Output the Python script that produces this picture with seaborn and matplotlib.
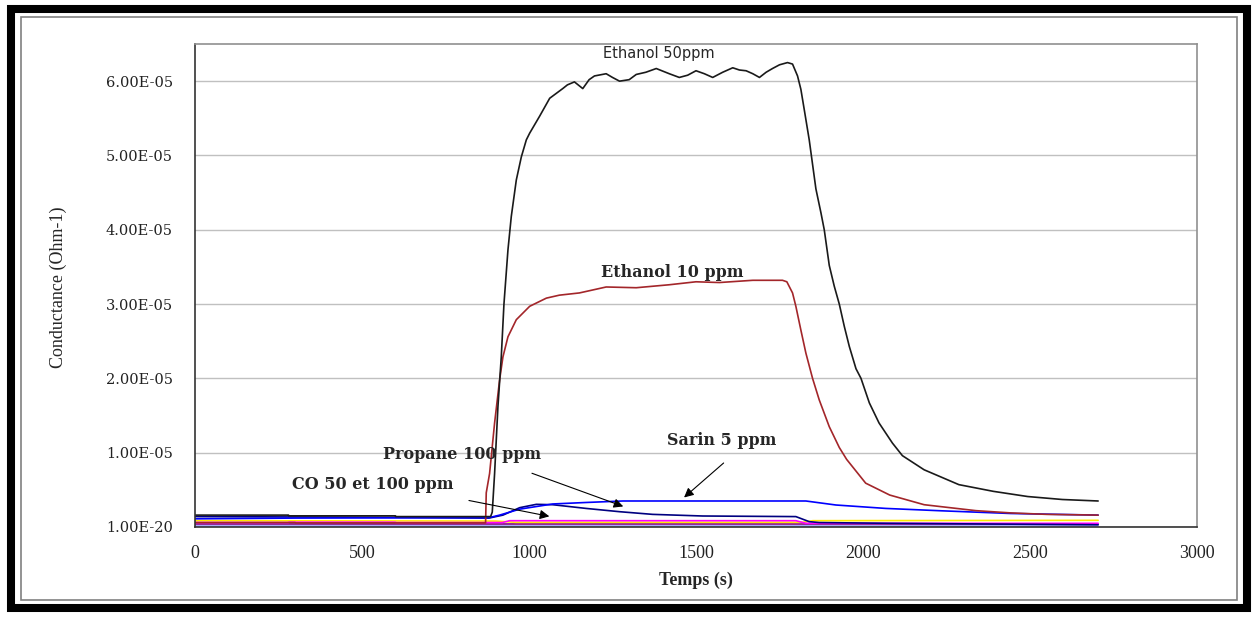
import seaborn as sns
import matplotlib.pyplot as plt
from matplotlib.patches import Rectangle

# temps (s) et conductance (unites de 1e-5 Ohm-1)
eth50_t = [0, 280, 281, 600, 601, 885, 890, 897, 907, 917, 925, 937, 947, 962, 977, 992,
           1002, 1032, 1062, 1101, 1115, 1136, 1161, 1180, 1196, 1231, 1250, 1271, 1300,
           1321, 1350, 1381, 1420, 1450, 1475, 1500, 1525, 1550, 1580, 1610, 1630, 1650,
           1670, 1690, 1710, 1729, 1750, 1774, 1789, 1804, 1814, 1824, 1839, 1859, 1874,
           1884, 1899, 1914, 1929, 1944, 1959, 1979, 1994, 2019, 2048, 2088, 2118, 2183,
           2287, 2390, 2493, 2597, 2704]
eth50_v = [0.16, 0.16, 0.15, 0.15, 0.14, 0.14, 0.20, 0.72, 1.62, 2.29, 3.00, 3.73, 4.18,
           4.67, 4.98, 5.21, 5.30, 5.53, 5.77, 5.90, 5.95, 5.99, 5.90, 6.02, 6.07, 6.10,
           6.05, 6.00, 6.02, 6.09, 6.12, 6.17, 6.10, 6.05, 6.08, 6.14, 6.10, 6.05, 6.12,
           6.18, 6.15, 6.14, 6.10, 6.05, 6.12, 6.17, 6.22, 6.25, 6.23, 6.07, 5.89, 5.62,
           5.21, 4.55, 4.23, 4.00, 3.52, 3.24, 3.00, 2.70, 2.43, 2.13, 2.00, 1.67, 1.40,
           1.13, 0.96, 0.77, 0.57, 0.48, 0.41, 0.37, 0.35]

eth10_t = [0, 300, 301, 870, 872, 882, 897, 912, 922, 937, 962, 1002, 1052, 1091, 1151,
           1231, 1321, 1420, 1500, 1570, 1670, 1759, 1772, 1789, 1799, 1814, 1829, 1849,
           1869, 1899, 1929, 1951, 2008, 2080, 2183, 2338, 2441, 2550, 2704]
eth10_v = [0.06, 0.06, 0.055, 0.055, 0.46, 0.72, 1.40, 1.98, 2.29, 2.56, 2.79, 2.97, 3.08,
           3.12, 3.15, 3.23, 3.22, 3.26, 3.30, 3.29, 3.32, 3.32, 3.30, 3.15, 2.97, 2.65,
           2.34, 2.00, 1.71, 1.35, 1.07, 0.91, 0.59, 0.43, 0.30, 0.22, 0.19, 0.17, 0.16]

sarin_t = [0, 300, 880, 912, 972, 1071, 1171, 1281, 1829, 1919, 2068, 2235, 2441, 2704]
sarin_v = [0.11, 0.12, 0.125, 0.16, 0.24, 0.31, 0.33, 0.35, 0.35, 0.296, 0.25, 0.218,
           0.182, 0.16]

propane_t = [0, 600, 880, 922, 972, 1022, 1071, 1171, 1271, 1370, 1520, 1799, 1839, 1869,
             2070, 2704]
propane_v = [0.14, 0.13, 0.12, 0.16, 0.26, 0.305, 0.30, 0.25, 0.206, 0.17, 0.148, 0.14,
             0.072, 0.06, 0.05, 0.03]

co100_t = [0, 280, 281, 600, 601, 920, 942, 1799, 1829, 2704]
co100_v = [0.06, 0.06, 0.065, 0.065, 0.06, 0.06, 0.085, 0.085, 0.05, 0.05]

co50_t = [0, 900, 960, 1819, 1850, 2704]
co50_v = [0.085, 0.08, 0.063, 0.063, 0.085, 0.09]

air1_t = [0, 2704]
air1_v = [0.036, 0.036]
air2_t = [0, 2704]
air2_v = [0.017, 0.017]

x_ticks = [0, 500, 1000, 1500, 2000, 2500, 3000]
y_ticks = [0, 1, 2, 3, 4, 5, 6]
y_tick_labels = ["1.00E-20", "1.00E-05", "2.00E-05", "3.00E-05", "4.00E-05",
                 "5.00E-05", "6.00E-05"]

sns.set_style("white")
plt.rcParams["font.family"] = ["Liberation Serif", "DejaVu Serif"]

fig = plt.figure(figsize=(12.58, 6.17), dpi=100)
ax = fig.add_axes([195 / 1258, 1 - 527 / 617, 1002 / 1258, 483 / 617])

series = [
    (air2_t, air2_v, "#9999FF"),
    (air1_t, air1_v, "#800080"),
    (co50_t, co50_v, "#FFE800"),
    (co100_t, co100_v, "#FF00FF"),
    (propane_t, propane_v, "#000080"),
    (sarin_t, sarin_v, "#0000FF"),
    (eth10_t, eth10_v, "#A3262A"),
    (eth50_t, eth50_v, "#1A1A1A"),
]
for t, v, c in series:
    sns.lineplot(x=t, y=v, color=c, lw=1.2, ax=ax, estimator=None, sort=False)

ax.set_xlim(0, 3000)
ax.set_ylim(0, 6.5)
ax.set_xticks(x_ticks)
ax.set_xticklabels([str(v) for v in x_ticks], fontsize=13)
ax.set_yticks(y_ticks)
ax.set_yticklabels(y_tick_labels, family="DejaVu Serif", fontsize=10.5)
ax.yaxis.grid(True, color="#C0C0C0", lw=1)
ax.xaxis.grid(False)
ax.tick_params(axis="both", direction="out", length=5, width=1, color="#333333",
               colors="#222222")
ax.tick_params(axis="x", pad=8)
ax.tick_params(axis="y", pad=11)
for s in ["left", "bottom"]:
    ax.spines[s].set_color("#333333")
    ax.spines[s].set_linewidth(1.2)
for s in ["top", "right"]:
    ax.spines[s].set_color("#909090")
    ax.spines[s].set_linewidth(1.2)

ax.set_xlabel("Temps (s)", fontsize=13, fontweight="bold")
ax.xaxis.set_label_coords(0.5, -0.093)
ax.set_ylabel("Conductance (Ohm-1)", fontsize=13)
ax.yaxis.set_label_coords(-0.128, 0.497)

# etiquettes
ax.text(1390, 6.37, "Ethanol 50ppm", family="DejaVu Sans", fontsize=10.5,
        ha="center", va="center")
ax.text(1430, 3.42, "Ethanol 10 ppm", family="DejaVu Serif", fontsize=11.5,
        fontweight="bold", ha="center", va="center")
ax.text(1578, 1.16, "Sarin 5 ppm", family="DejaVu Serif", fontsize=11.5,
        fontweight="bold", ha="center", va="center")
ax.text(799, 0.98, "Propane 100 ppm", family="DejaVu Serif", fontsize=11.5,
        fontweight="bold", ha="center", va="center")
ax.text(531, 0.57, "CO 50 et 100 ppm", family="DejaVu Serif", fontsize=11.5,
        fontweight="bold", ha="center", va="center")

arrow = dict(arrowstyle="-|>", color="black", lw=0.8, mutation_scale=14)
ax.annotate("", xy=(1458, 0.373), xytext=(1589, 0.886), arrowprops=arrow)
ax.annotate("", xy=(1290, 0.264), xytext=(1001, 0.736), arrowprops=arrow)
ax.annotate("", xy=(1069, 0.136), xytext=(812, 0.364), arrowprops=arrow)

# cadres
fig.patches.append(Rectangle((11 / 1258, 1 - 608 / 617), 1236 / 1258, 599 / 617,
                             transform=fig.transFigure, fill=False, ec="black",
                             lw=5.8, figure=fig))
fig.patches.append(Rectangle((21 / 1258, 1 - 600 / 617), 1216 / 1258, 583 / 617,
                             transform=fig.transFigure, fill=False, ec="#808080",
                             lw=1.2, figure=fig))

plt.savefig("out.png", dpi=100)
